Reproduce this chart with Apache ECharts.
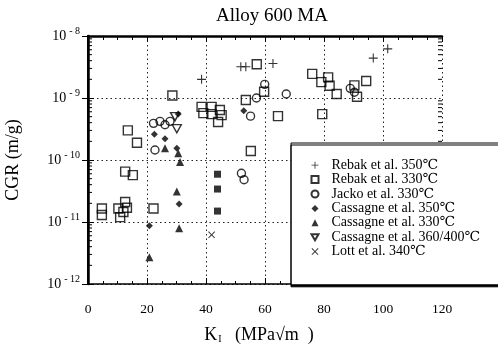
<!DOCTYPE html>
<html>
<head>
<meta charset="utf-8">
<script src="https://cdn.jsdelivr.net/npm/echarts@6/dist/echarts.min.js"></script>
<style>
  html, body { margin: 0; padding: 0; background: #fff; }
  #chart { width: 498px; height: 344px; }
</style>
</head>
<body>
<div id="chart"></div>
<script>
// Crack growth rate (m/g) against stress intensity K_I (MPa·√m), Alloy 600 MA
const rebak350 = [[38.5,2.0e-9],[51.8,3.2e-9],[53.5,3.2e-9],[62.7,3.6e-9],[96.7,4.4e-9],[101.6,6.2e-9]];
const rebak330 = [
  [28.6,1.1e-9],[57.2,3.5e-9],[38.5,7.2e-10],[39.1,5.7e-10],[41.9,7.2e-10],[41.9,5.5e-10],
  [44.7,6.4e-10],[44.1,4.1e-10],[45.3,5.3e-10],[13.5,3.0e-10],[16.6,1.9e-10],[59.7,1.26e-9],
  [53.5,9.3e-10],[64.4,5.1e-10],[79.4,5.5e-10],[76.0,2.45e-9],[79.1,1.8e-9],[81.4,2.15e-9],
  [81.9,1.58e-9],[84.3,1.16e-9],[90.3,1.6e-9],[94.3,1.88e-9],[91.2,1.05e-9],[55.2,1.4e-10],
  [12.6,6.5e-11],[15.2,5.7e-11],[4.7,1.65e-11],[4.7,1.3e-11],[10.3,1.65e-11],[12.6,2.1e-11],
  [13.2,1.7e-11],[10.9,1.2e-11],[12.0,1.45e-11],[22.2,1.65e-11]
];
const jacko330 = [
  [22.2,3.9e-10],[24.4,4.2e-10],[26.1,3.7e-10],[27.8,4.2e-10],[22.7,1.45e-10],[52.0,6.1e-11],
  [52.9,4.8e-11],[55.1,5.1e-10],[57.1,1.0e-9],[59.9,1.66e-9],[67.2,1.16e-9],[88.9,1.43e-9],[90.3,1.24e-9]
];
const cassagne350 = [[30.6,5.5e-10],[22.5,2.6e-10],[26.1,2.2e-10],[30.1,1.55e-10],[30.9,1.95e-11],[20.8,8.7e-12],[52.8,6.2e-10]];
// Cassagne 350 °C points plotted with square markers
const cassagne350sq = [[43.9,5.9e-11],[43.9,3.4e-11],[43.9,1.5e-11]];
const cassagne330 = [[26.1,1.55e-10],[30.6,1.28e-10],[31.2,9.3e-11],[30.1,3.1e-11],[30.9,7.9e-12],[20.8,2.7e-12]];
const cassagne360 = [[29.5,5.0e-10],[30.1,3.2e-10]];
const lott340 = [[41.9,6.2e-12]];

const seriesNames = [
  'Rebak et al. 350℃', 'Rebak et al. 330℃', 'Jacko et al. 330℃', 'Cassagne et al. 350℃',
  'Cassagne et al. 330℃', 'Cassagne et al. 360/400℃', 'Lott et al. 340℃'
];
const xTicks = { min: 0, max: 120, interval: 20 };
const decades = [-12, -11, -10, -9];

// log minor tick positions (2..9 × 10^n)
const minorTickVals = [];
decades.forEach(e => { for (let k = 2; k <= 9; k++) minorTickVals.push([0, k * Math.pow(10, e)]); });

const FONT = '"Liberation Serif", "DejaVu Serif", serif';
const PLUS = 'path://M4.4,0H5.6V4.4H10V5.6H5.6V10H4.4V5.6H0V4.4H4.4Z';
const CROSS = 'path://M0,1L1,0L5,4L9,0L10,1L6,5L10,9L9,10L5,6L1,10L0,9L4,5Z';
const DOWN_TRI = 'path://M0,0L10,0L5,8.66Z';

const chart = echarts.init(document.getElementById('chart'), null, { renderer: 'canvas' });

const openStyle = { color: 'none', borderColor: '#000', borderWidth: 1.4 };
const solidStyle = { color: '#000', borderColor: '#000', borderWidth: 0 };

chart.setOption({
  animation: false,
  backgroundColor: '#fff',
  title: {
    text: 'Alloy 600 MA',
    left: 267, top: 2, textAlign: 'center',
    textStyle: { fontFamily: FONT, fontSize: 19, fontWeight: 'normal', color: '#000' }
  },
  grid: { left: 88, top: 36, width: 354, height: 248, containLabel: false, outerBoundsMode: 'none' },
  legend: {
    orient: 'vertical',
    left: 291, top: 143,
    padding: [15, 40, 26, 18],
    itemGap: 0,
    itemWidth: 7, itemHeight: 7,
    backgroundColor: '#fff',
    borderColor: '#000', borderWidth: 1,
    shadowColor: '#000', shadowOffsetY: 2, shadowOffsetX: 0, shadowBlur: 0,
    data: seriesNames,
    textStyle: { fontFamily: FONT, fontSize: 14, lineHeight: 14.4, color: '#000', padding: [0, 0, 0, 8] }
  },
  xAxis: [{
    type: 'value', min: xTicks.min, max: xTicks.max, interval: xTicks.interval,
    axisLine: { show: true, lineStyle: { color: '#000', width: 1.5 } },
    axisTick: { show: true, inside: true, length: 6, lineStyle: { color: '#000' } },
    minorTick: { show: true, splitNumber: 4, length: 3, lineStyle: { color: '#000' } },
    splitLine: { show: true, lineStyle: { color: '#222', type: [1.5, 3], width: 1 } },
    axisLabel: { fontFamily: FONT, fontSize: 13.5, color: '#000', margin: 18 },
    name: '{k|K}{i|I}{t|   (MPa√m  )}',
    nameLocation: 'middle', nameGap: 42,
    nameTextStyle: {
      padding: [0, 12, 0, 0],
      rich: {
        k: { fontFamily: FONT, fontSize: 18, color: '#000' },
        i: { fontFamily: FONT, fontSize: 10, color: '#000', verticalAlign: 'bottom', padding: [7, 0, 0, 1] },
        t: { fontFamily: FONT, fontSize: 18, color: '#000' }
      }
    }
  }, {
    type: 'value', position: 'top', min: xTicks.min, max: xTicks.max, interval: xTicks.interval,
    axisLine: { show: true, lineStyle: { color: '#000', width: 2.5 } },
    axisTick: { show: true, inside: true, length: 6, lineStyle: { color: '#000' } },
    minorTick: { show: true, splitNumber: 4, length: 4, lineStyle: { color: '#000' } },
    splitLine: { show: false },
    axisLabel: { show: false }
  }],
  yAxis: [{
    type: 'log', logBase: 10, min: 1e-12, max: 1e-8,
    axisLine: { show: true, lineStyle: { color: '#000', width: 2.5 } },
    axisTick: { show: true, inside: true, length: 6, lineStyle: { color: '#000' } },
    splitLine: { show: true, lineStyle: { color: '#222', type: [1.5, 3], width: 1 } },
    axisLabel: {
      margin: 8,
      formatter: v => '{b|10}{s|- ' + Math.abs(Math.round(Math.log10(v))) + '}',
      rich: {
        b: { fontFamily: FONT, fontSize: 14, color: '#000' },
        s: { fontFamily: FONT, fontSize: 10, color: '#000', verticalAlign: 'top', padding: [0, 0, 9, 3] }
      }
    },
    name: 'CGR (m/g)',
    nameLocation: 'middle', nameGap: 66, nameRotate: 90,
    nameTextStyle: { fontFamily: FONT, fontSize: 18, color: '#000' }
  }, {
    type: 'log', logBase: 10, min: 1e-12, max: 1e-8, position: 'right',
    axisLine: { show: true, lineStyle: { color: '#000', width: 2 } },
    axisTick: { show: true, inside: true, length: 6, lineStyle: { color: '#000' } },
    splitLine: { show: false },
    axisLabel: { show: false }
  }],
  series: [
    {
      // log minor ticks on the left and right frame edges
      type: 'custom', name: 'minor', silent: true, clip: false, z: 1,
      data: minorTickVals,
      encode: { x: 0, y: 1 },
      renderItem: (params, api) => {
        const v = api.value(1);
        const l = api.coord([xTicks.min, v]);
        const r = api.coord([xTicks.max, v]);
        const st = { stroke: '#000', lineWidth: 1 };
        return {
          type: 'group',
          children: [
            { type: 'line', shape: { x1: l[0], y1: l[1], x2: l[0] + 4, y2: l[1] }, style: st },
            { type: 'line', shape: { x1: r[0], y1: r[1], x2: r[0] - 4, y2: r[1] }, style: st }
          ]
        };
      }
    },
    { type: 'scatter', name: seriesNames[0], data: rebak350, symbol: PLUS, symbolSize: 9, itemStyle: solidStyle },
    { type: 'scatter', name: seriesNames[1], data: rebak330, symbol: 'rect', symbolSize: 9, itemStyle: openStyle },
    { type: 'scatter', name: seriesNames[2], data: jacko330, symbol: 'circle', symbolSize: 8, itemStyle: openStyle },
    {
      type: 'scatter', name: seriesNames[3], symbol: 'diamond', symbolSize: 7, itemStyle: solidStyle,
      data: cassagne350.concat(cassagne350sq.map(p => ({ value: p, symbol: 'rect', symbolSize: 7 })))
    },
    { type: 'scatter', name: seriesNames[4], data: cassagne330, symbol: 'triangle', symbolSize: 8, itemStyle: solidStyle },
    { type: 'scatter', name: seriesNames[5], data: cassagne360, symbol: DOWN_TRI, symbolSize: [9, 8], itemStyle: openStyle },
    { type: 'scatter', name: seriesNames[6], data: lott340, symbol: CROSS, symbolSize: 7, itemStyle: solidStyle }
  ]
});
</script>
</body>
</html>
